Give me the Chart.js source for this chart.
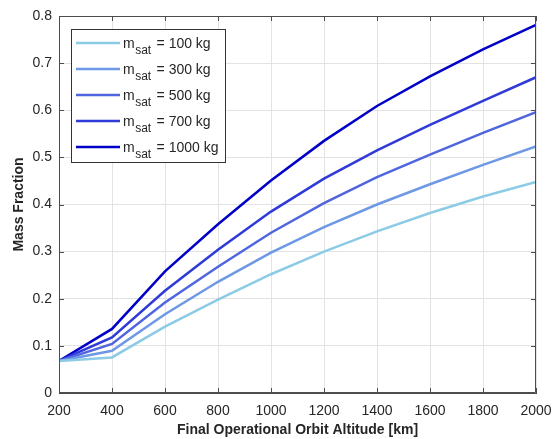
<!DOCTYPE html>
<html>
<head>
<meta charset="utf-8">
<script src="https://cdn.jsdelivr.net/npm/chart.js@4.4.1/dist/chart.umd.min.js"></script>
<style>
  html, body { margin: 0; padding: 0; background: #fff; }
  #wrap { width: 555px; height: 439px; }
</style>
</head>
<body>
<div id="wrap"><canvas id="massChart" width="555" height="439"></canvas></div>
<script>
// --- data ---
const altitudes = [200, 400, 600, 800, 1000, 1200, 1400, 1600, 1800, 2000];
const satMasses = ['100', '300', '500', '700', '1000'];
const frac100  = [0.068, 0.0755, 0.141, 0.198, 0.252, 0.300, 0.343, 0.382, 0.417, 0.448];
const frac300  = [0.068, 0.0895, 0.167, 0.236, 0.298, 0.352, 0.400, 0.443, 0.484, 0.523];
const frac500  = [0.068, 0.104, 0.192, 0.268, 0.340, 0.403, 0.458, 0.506, 0.552, 0.596];
const frac700  = [0.068, 0.118, 0.217, 0.304, 0.385, 0.455, 0.515, 0.569, 0.620, 0.670];
const frac1000 = [0.068, 0.136, 0.258, 0.358, 0.451, 0.535, 0.609, 0.672, 0.729, 0.781];
const xTicks = [200, 400, 600, 800, 1000, 1200, 1400, 1600, 1800, 2000];
const yTicks = [0, 0.1, 0.2, 0.3, 0.4, 0.5, 0.6, 0.7, 0.8];

const seriesList = [frac100, frac300, frac500, frac700, frac1000];
const lineColors = ['#8ccbe6', '#6d98e6', '#4f66df', '#2f3ad8', '#0000c8'];
const FONT = '"Liberation Sans", Arial, Helvetica, sans-serif';

const datasets = seriesList.map(function(vals, i) {
    return {
        label: satMasses[i],
        data: vals.map((v, j) => ({ x: altitudes[j], y: v })),
        borderColor: lineColors[i],
        borderWidth: 2.5,
        pointRadius: 0,
        tension: 0,
        fill: false
    };
});

// box, inward ticks and MATLAB-like legend
const boxPlugin = {
    id: 'boxPlugin',
    afterDatasetsDraw(chart) {
        const ctx = chart.ctx;
        const a = chart.chartArea;
        const xs = chart.scales.x, ys = chart.scales.y;
        ctx.save();
        ctx.strokeStyle = '#4d4d4d';
        ctx.lineWidth = 1;
        ctx.beginPath();
        ctx.rect(a.left + 0.5, a.top + 0.5, a.right - a.left - 1, a.bottom - a.top - 1);
        ctx.stroke();
        // ticks inside
        const tl = 5;
        ctx.beginPath();
        xTicks.forEach(function(t) {
            const px = Math.round(xs.getPixelForValue(t)) + 0.5;
            ctx.moveTo(px, a.bottom); ctx.lineTo(px, a.bottom - tl);
            ctx.moveTo(px, a.top); ctx.lineTo(px, a.top + tl);
        });
        yTicks.forEach(function(t) {
            const py = Math.round(ys.getPixelForValue(t)) + 0.5;
            ctx.moveTo(a.left, py); ctx.lineTo(a.left + tl, py);
            ctx.moveTo(a.right, py); ctx.lineTo(a.right - tl, py);
        });
        ctx.stroke();

        // legend
        const lx = 71, ly = 29, lw = 154, lh = 133;
        ctx.fillStyle = '#fff';
        ctx.fillRect(lx, ly, lw, lh);
        ctx.strokeStyle = '#333';
        ctx.strokeRect(lx + 0.5, ly + 0.5, lw, lh);
        chart.data.datasets.forEach(function(ds, i) {
            const y = 43 + i * 26;
            ctx.strokeStyle = ds.borderColor;
            ctx.lineWidth = 2.5;
            ctx.beginPath();
            ctx.moveTo(76, y); ctx.lineTo(120, y);
            ctx.stroke();
            ctx.fillStyle = '#262626';
            ctx.textBaseline = 'alphabetic';
            ctx.textAlign = 'left';
            ctx.font = '14px ' + FONT;
            const base = y + 5;
            ctx.fillText('m', 123, base);
            const mw = ctx.measureText('m').width;
            ctx.font = '12px ' + FONT;
            ctx.fillText('sat', 123 + mw + 0.5, base + 6);
            const sw = ctx.measureText('sat').width;
            ctx.font = '14px ' + FONT;
            ctx.fillText(' = ' + ds.label + ' kg', 123 + mw + sw + 2, base);
        });
        ctx.restore();
    }
};

new Chart(document.getElementById('massChart'), {
    type: 'line',
    data: { datasets: datasets },
    options: {
        responsive: false,
        animation: false,
        devicePixelRatio: 1,
        layout: { padding: { top: 16, right: 19, bottom: 0, left: 0 } },
        plugins: { legend: { display: false }, tooltip: { enabled: false } },
        scales: {
            x: {
                type: 'linear',
                min: 200, max: 2000,
                afterBuildTicks: function(s) { s.ticks = xTicks.map(v => ({ value: v })); },
                afterFit: function(s) { s.height = 46; s.paddingLeft = 0; s.paddingRight = 0; },
                grid: { color: '#e3e3e3', drawTicks: false },
                border: { color: '#4d4d4d' },
                ticks: {
                    color: '#262626', font: { family: FONT, size: 14 },
                    padding: 10, maxRotation: 0, autoSkip: false,
                    callback: function(v) { return String(v); }
                },
                title: {
                    display: true, text: 'Final Operational Orbit Altitude [km]',
                    color: '#262626', font: { family: FONT, size: 14, weight: 'bold' },
                    padding: { top: 0, bottom: 0 }
                }
            },
            y: {
                min: 0, max: 0.8,
                afterBuildTicks: function(s) { s.ticks = yTicks.map(v => ({ value: v })); },
                afterFit: function(s) { s.width = 59; s.paddingTop = 0; s.paddingBottom = 0; },
                grid: { color: '#e3e3e3', drawTicks: false },
                border: { color: '#4d4d4d' },
                ticks: {
                    color: '#262626', font: { family: FONT, size: 14 },
                    padding: 7,
                    callback: function(v) { return String(+v.toFixed(1)); }
                },
                title: {
                    display: true, text: 'Mass Fraction',
                    color: '#262626', font: { family: FONT, size: 14, weight: 'bold' },
                    padding: { top: 11, bottom: 0 }
                }
            }
        }
    },
    plugins: [boxPlugin]
});
</script>
</body>
</html>
